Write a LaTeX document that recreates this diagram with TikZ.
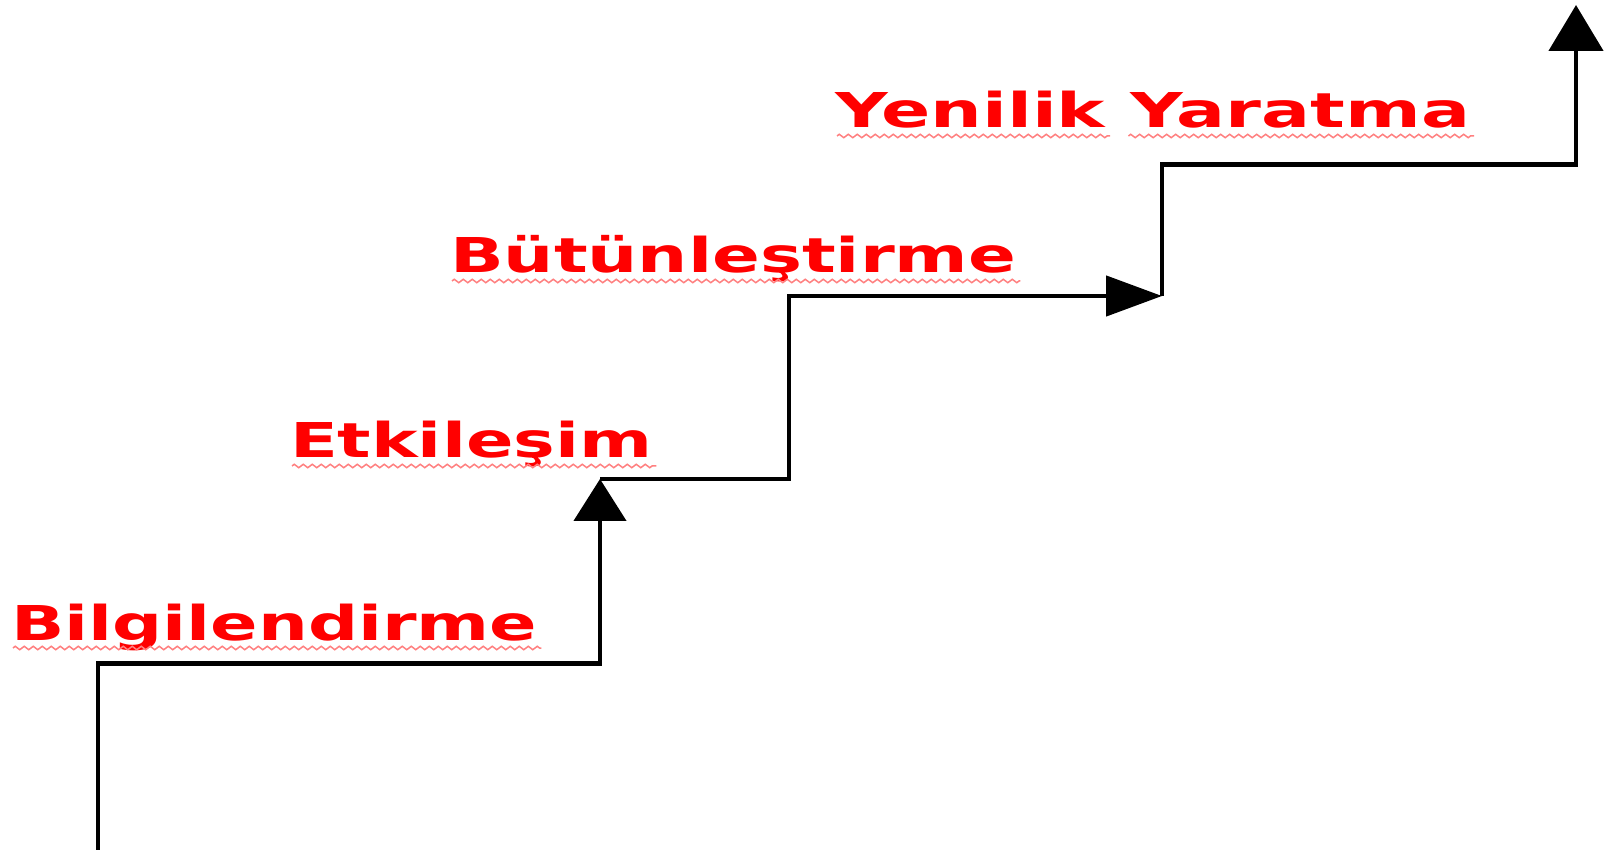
\documentclass[tikz,border=0pt]{standalone}
\usepackage{fontspec}
\setmainfont{DejaVu Sans}
\usepackage{graphicx}
\usetikzlibrary{arrows.meta,calc,decorations.pathmorphing}
\tikzset{
  lbl/.style={inner sep=0pt, outer sep=0pt, anchor=base west, text=red,
    font=\bfseries\fontsize{48}{58}\selectfont},
  stair/.style={draw=black, line width=4.6pt, line join=miter},
  squig/.style={draw=red!50, line width=1.5pt, decorate,
    decoration={zigzag, segment length=9pt, amplitude=1.7pt}},
  upTip/.style={-{Triangle[length=42pt,width=52pt]}},
  rightTip/.style={-{Triangle[length=56pt,width=40pt]}},
  topTip/.style={-{Triangle[length=46pt,width=54pt]}}
}
\newcommand{\wide}[2][1.46]{\scalebox{#1}[1]{#2}}
\begin{document}
\begin{tikzpicture}[x=1pt,y=1pt]
\useasboundingbox (0,0) rectangle (1613,849);
% stair coordinates
\coordinate (p0) at (98,-2);
\coordinate (p1) at (98,185.5);
\coordinate (p2) at (600,185.5);
\coordinate (p3) at (600,370);
\coordinate (p4) at (789,370);
\coordinate (p5) at (789,553);
\coordinate (p6) at (1162,553);
\coordinate (p7) at (1162,684.5);
\coordinate (p8) at (1576,684.5);
\coordinate (p9) at (1576,844);
\draw[stair,upTip] (p0) -- (p1) -- (p2) -- (p3);
\draw[stair,rightTip] (p3) -- (p4) -- (p5) -- (p6);
\draw[stair,topTip] (p6) -- (p7) -- (p8) -- (p9);
% labels
\node[lbl] (b) at (11,209) {\wide{Bilgilendirme}};
\node[lbl] (e) at (290,391) {\wide{Etkileşim}};
\node[lbl] (u) at (450,576) {\wide[1.47]{Bütünleştirme}};
\node[lbl] (y) at (835,721) {\wide[1.515]{Yenilik Yaratma}};
% spell-check squiggles
\draw[squig] ($(b.base west)+(2,-8)$) -- ($(b.base east)+(4,-8)$);
\draw[squig] ($(e.base west)+(2,-8)$) -- ($(e.base east)+(4,-8)$);
\draw[squig] ($(u.base west)+(2,-8)$) -- ($(u.base east)+(4,-8)$);
\draw[squig] ($(y.base west)+(2,-8)$) -- ($(y.base west)!0.43!(y.base east)+(2,-8)$);
\draw[squig] ($(y.base west)!0.462!(y.base east)+(0,-8)$) -- ($(y.base east)+(4,-8)$);
\end{tikzpicture}
\end{document}
